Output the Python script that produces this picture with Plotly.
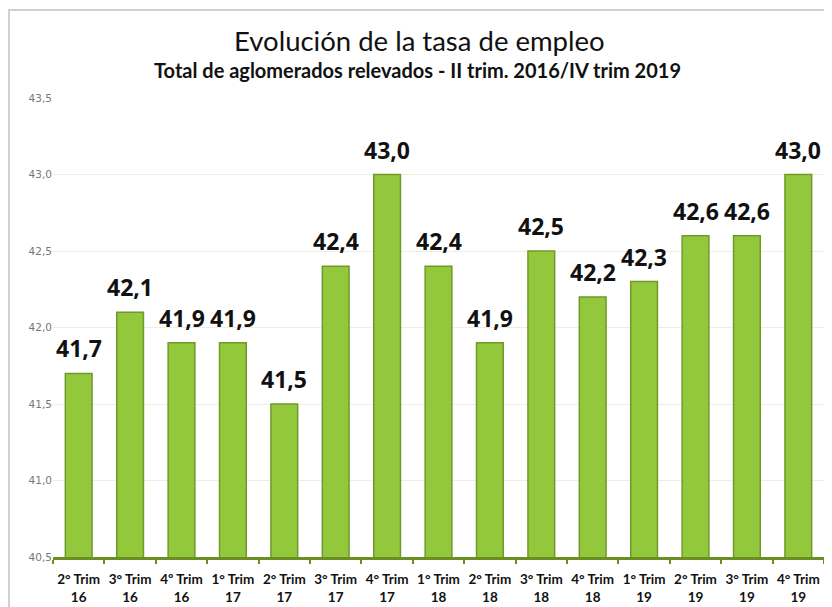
import plotly.graph_objects as go

categories = ["2° Trim<br>16", "3° Trim<br>16", "4º Trim<br>16", "1° Trim<br>17", "2° Trim<br>17",
              "3° Trim<br>17", "4° Trim<br>17", "1° Trim<br>18", "2° Trim<br>18", "3° Trim<br>18",
              "4° Trim<br>18", "1° Trim<br>19", "2° Trim<br>19", "3° Trim<br>19", "4° Trim<br>19"]
values = [41.7, 42.1, 41.9, 41.9, 41.5, 42.4, 43.0, 42.4, 41.9, 42.5, 42.2, 42.3, 42.6, 42.6, 43.0]
y_ticks = [40.5, 41.0, 41.5, 42.0, 42.5, 43.0, 43.5]

# page body has an 8px margin, so the figure is sized/offset to compensate
L, R, T, B = 45, 8, 90, 50
W, H = 824, 599
pw, ph = W - L - R, H - T - B

fig = go.Figure()
fig.add_trace(go.Bar(
    x=categories, y=values,
    marker=dict(color="#94C83C", line=dict(color="#6F9A2A", width=1.5)),
    hoverinfo="x+y",
))

for c, v in zip(categories, values):
    fig.add_annotation(x=c, y=v, xref="x", yref="y", text=f"{v:.1f}".replace(".", ","),
                       showarrow=False, yanchor="bottom", yshift=7,
                       font=dict(family="Open Sans", size=23, color="#111111", weight="bold"))

fig.add_annotation(text="Evolución de la tasa de empleo", x=0.476, xref="paper", y=1, yref="paper",
                   yshift=58, showarrow=False, yanchor="middle",
                   font=dict(family="Lato", size=27.5, color="#111111"))
fig.add_annotation(text="<b>Total de aglomerados relevados - II trim. 2016/IV trim 2019</b>", x=0.473, xref="paper",
                   y=1, yref="paper", yshift=28, showarrow=False, yanchor="middle",
                   font=dict(family="Lato", size=20, color="#111111"))

fig.update_layout(
    width=W, height=H,
    margin=dict(l=L, r=R, t=T, b=B),
    paper_bgcolor="white", plot_bgcolor="white",
    separators=",.",
    bargap=0.48,
    showlegend=False,
    shapes=[dict(type="rect", xref="paper", yref="paper", x0=-(L - 1) / pw, x1=1 + (R + 20) / pw,
                 y0=-(B + 20) / ph, y1=1 + (T - 2) / ph,
                 line=dict(color="#D0D0D0", width=2), fillcolor="rgba(0,0,0,0)", layer="below")],
)

fig.update_yaxes(range=[40.5, 43.5], tickvals=y_ticks, tickformat=".1f", automargin=False,
                 showgrid=True, gridcolor="#EDEEDD", gridwidth=1, zeroline=False,
                 tickfont=dict(family="DejaVu Sans", size=10.5, color="#777777"), ticks="", ticklen=0,
                 ticklabelstandoff=0, ticksuffix="\u00a0\u00a0\u00a0")
fig.update_xaxes(showline=True, linecolor="#6B8E23", linewidth=3, tickson="boundaries", automargin=False,
                 ticks="outside", ticklen=4, tickcolor="#6B8E23", tickwidth=2,
                 tickfont=dict(family="Lato", size=13.5, color="#111111", weight="bold"),
                 tickangle=0, ticklabelstandoff=8)

fig.write_html("out.html")
